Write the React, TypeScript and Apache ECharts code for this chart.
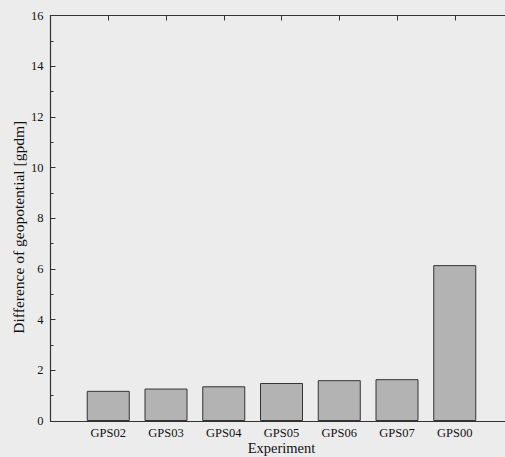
import React, { useEffect, useRef } from "react";
import * as echarts from "echarts";

const categories = ["GPS02", "GPS03", "GPS04", "GPS05", "GPS06", "GPS07", "GPS00"];
const values = [1.19, 1.28, 1.37, 1.5, 1.61, 1.65, 6.15];
const yTicks = [0, 2, 4, 6, 8, 10, 12, 14, 16];

const FONT = "Liberation Serif";

export default function App() {
  const ref = useRef<HTMLDivElement>(null);
  useEffect(() => {
    if (!ref.current) return;
    const chart = echarts.init(ref.current, null, { renderer: "svg" });
    chart.setOption({
      animation: false,
      backgroundColor: "#ececec",
      textStyle: { fontFamily: FONT },
      grid: {
        left: 50.5,
        top: 15.5,
        height: 405.5,
        width: 462,
        containLabel: false,
        outerBoundsMode: "none",
      },
      xAxis: [
        {
          type: "value",
          position: "bottom",
          min: 0,
          max: categories.length + 1,
          interval: 1,
          name: "Experiment",
          nameLocation: "middle",
          nameGap: 19,
          nameMoveOverlap: false,
          nameTextStyle: { fontFamily: FONT, fontSize: 14.5, color: "#111" },
          axisLine: { show: true, lineStyle: { color: "#333", width: 1.2 } },
          axisTick: { show: false },
          splitLine: { show: false },
          axisLabel: {
            fontFamily: FONT,
            fontSize: 12.5,
            color: "#111",
            margin: 5,
            formatter: (v: number) => categories[v - 1] ?? "",
          },
        },
        {
          type: "value",
          position: "top",
          min: 0,
          max: categories.length + 1,
          interval: 1,
          axisLine: { show: true, lineStyle: { color: "#333", width: 1.2 } },
          axisTick: { show: true, inside: true, length: 5, lineStyle: { color: "#333" } },
          axisLabel: { show: false },
          splitLine: { show: false },
        },
      ],
      yAxis: {
        type: "value",
        min: yTicks[0],
        max: yTicks[yTicks.length - 1],
        interval: 2,
        name: "Difference of geopotential [gpdm]",
        nameLocation: "middle",
        nameGap: 24,
        nameMoveOverlap: false,
        nameTextStyle: {
          fontFamily: FONT,
          fontSize: 15.5,
          color: "#111",
          padding: [0, 18, 0, 0],
        },
        axisLine: { show: true, lineStyle: { color: "#333", width: 1.2 } },
        axisTick: { show: true, inside: true, length: 5, lineStyle: { color: "#333" } },
        minorTick: { show: true, splitNumber: 2, length: 3, lineStyle: { color: "#333" } },
        splitLine: { show: false },
        axisLabel: { fontFamily: FONT, fontSize: 12.5, color: "#111", margin: 7 },
      },
      series: [
        {
          type: "bar",
          xAxisIndex: 0,
          barWidth: 43,
          data: values.map((v, i) => [i + 1, v]),
          itemStyle: { color: "#b3b3b3", borderColor: "#333", borderWidth: 1 },
        },
      ],
    });
    return () => chart.dispose();
  }, []);
  return (
    <div
      ref={ref}
      style={{ position: "fixed", left: 0, top: 0, width: 505, height: 457 }}
    />
  );
}
